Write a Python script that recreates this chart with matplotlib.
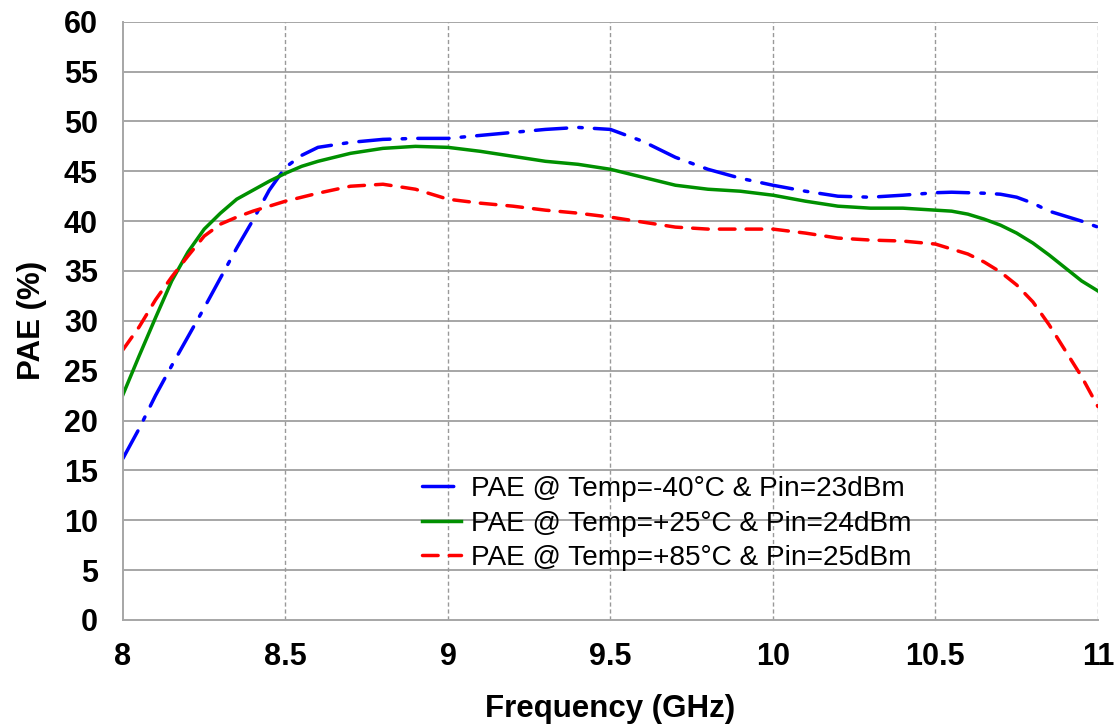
import matplotlib
matplotlib.use("Agg")
from matplotlib import pyplot as plt

# Frequency points (GHz) and PAE (%)
freq = [8.0, 8.05, 8.1, 8.15, 8.2, 8.25, 8.3, 8.35, 8.4, 8.45, 8.5, 8.55, 8.6,
        8.7, 8.8, 8.9, 9.0, 9.1, 9.2, 9.3, 9.4, 9.5, 9.6, 9.7, 9.8, 9.9,
        10.0, 10.1, 10.2, 10.3, 10.4,
        10.5, 10.55, 10.6, 10.65, 10.7, 10.75, 10.8, 10.85, 10.9, 10.95, 11.0]

pae_m40 = [16.2, 19.2, 22.5, 25.5, 28.4, 31.3, 34.3, 37.3, 40.1, 43.1, 45.4, 46.6, 47.4,
           47.9, 48.2, 48.3, 48.3, 48.6, 48.9, 49.2, 49.4, 49.2, 48.0, 46.4, 45.2, 44.3,
           43.6, 43.0, 42.5, 42.4, 42.6,
           42.85, 42.9, 42.85, 42.8, 42.7, 42.4, 41.8, 41.0, 40.5, 40.0, 39.4]

pae_p25 = [22.6, 26.5, 30.3, 34.0, 36.9, 39.2, 40.8, 42.2, 43.1, 44.0, 44.8, 45.5, 46.0,
           46.8, 47.3, 47.5, 47.4, 47.0, 46.5, 46.0, 45.7, 45.2, 44.4, 43.6, 43.2, 43.0,
           42.6, 42.0, 41.5, 41.3, 41.3,
           41.1, 41.0, 40.7, 40.2, 39.6, 38.8, 37.8, 36.6, 35.3, 34.0, 33.0]

pae_p85 = [27.1, 29.4, 32.1, 34.4, 36.5, 38.5, 39.7, 40.4, 41.0, 41.5, 42.0, 42.4, 42.8,
           43.5, 43.7, 43.2, 42.2, 41.8, 41.5, 41.1, 40.8, 40.4, 39.9, 39.4, 39.2, 39.2,
           39.2, 38.8, 38.3, 38.1, 38.0,
           37.7, 37.2, 36.7, 35.9, 34.9, 33.6, 31.9, 29.6, 27.0, 24.4, 21.4]

labels = ["PAE @ Temp=-40°C & Pin=23dBm",
          "PAE @ Temp=+25°C & Pin=24dBm",
          "PAE @ Temp=+85°C & Pin=25dBm"]

plt.rcParams['font.family'] = ['Liberation Sans', 'DejaVu Sans']

fig = plt.figure(figsize=(11.18, 7.25), dpi=100)
ax = fig.add_axes([0.110, 0.145, 0.872, 0.825])

ax.plot(freq, pae_m40, color='#0000ff', lw=2.5, dashes=(9, 3.5, 1, 3.5),
        dash_capstyle='round', solid_joinstyle='round', label=labels[0])
ax.plot(freq, pae_p25, color='#009000', lw=2.5, solid_joinstyle='round',
        label=labels[1])
ax.plot(freq, pae_p85, color='#ff0000', lw=2.5, dashes=(4.5, 3.2),
        dash_capstyle='round', label=labels[2])

ax.set_xlim(8, 11)
ax.set_ylim(0, 60)
ax.set_xticks([8, 8.5, 9, 9.5, 10, 10.5, 11])
ax.set_xticklabels(['8', '8.5', '9', '9.5', '10', '10.5', '11'])
ax.set_yticks(range(0, 61, 5))

# grid: solid horizontal, dashed vertical
for y in range(5, 61, 5):
    ax.axhline(y, color='#a6a6a6', lw=1.4, zorder=0)
for x in [8.5, 9, 9.5, 10, 10.5, 11]:
    ax.axvline(x, color='#999999', lw=1.0, ls=(0, (3, 2)), zorder=0)

for s in ['top', 'right']:
    ax.spines[s].set_visible(False)
for s in ['left', 'bottom']:
    ax.spines[s].set_color('#a6a6a6')
    ax.spines[s].set_linewidth(1.4)

ax.tick_params(axis='both', length=0, labelsize=22)
ax.tick_params(axis='y', pad=18)
ax.tick_params(axis='x', pad=16)
for t in ax.get_xticklabels() + ax.get_yticklabels():
    t.set_fontweight('bold')

ax.set_xlabel("Frequency (GHz)", fontsize=22.5, fontweight='bold', labelpad=16)
ax.set_ylabel("PAE (%)", fontsize=22.5, fontweight='bold', labelpad=12)

leg = ax.legend(loc='upper left', bbox_to_anchor=(0.295, 0.259), frameon=False,
                fontsize=20.2, handlelength=1.4, handletextpad=0.35,
                labelspacing=0.3, borderaxespad=0)

fig.savefig("out.png", dpi=100)
